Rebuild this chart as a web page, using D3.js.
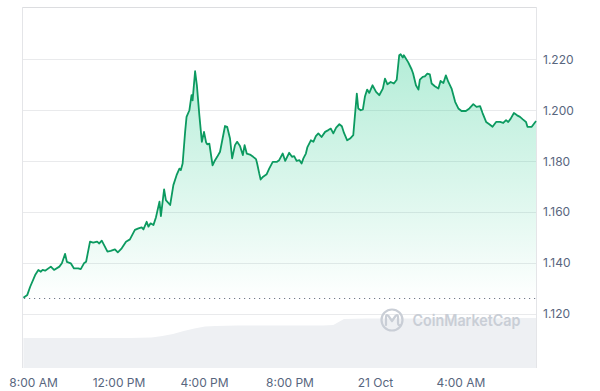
<!DOCTYPE html>
<html>
<head>
<meta charset="utf-8">
<script src="https://cdn.jsdelivr.net/npm/d3@7"></script>
<style>
  body { margin: 0; background: #fff; }
  svg { display: block; font-family: Inter, "Noto Sans", sans-serif; }
</style>
</head>
<body>
<div id="chart"></div>
<script>
// minutes after 20 Oct 08:00
const minutes = [-27, -16, -8, 6, 15, 22, 27, 34, 50, 59, 74, 81, 90, 95, 106, 115, 127, 134, 143, 149,
  160, 169, 180, 186, 193, 209, 218, 230, 238, 249, 261, 272, 286, 296, 305, 310, 319, 324, 330, 338,
  345, 349, 355, 359, 368, 373, 385, 394, 403, 411, 415, 420, 427, 431, 439, 445, 448, 455, 460, 467,
  474, 480, 486, 489, 495, 504, 511, 517, 525, 539, 545, 553, 559, 567, 573, 581, 589, 594, 600, 609,
  618, 626, 629, 635, 639, 646, 656, 663, 673, 684, 691, 701, 708, 719, 727, 733, 740, 748, 754, 759,
  766, 770, 780, 787, 794, 801, 810, 820, 829, 836, 843, 851, 860, 867, 873, 882, 890, 899, 909, 913,
  920, 926, 932, 938, 944, 953, 963, 972, 982, 988, 995, 1004, 1013, 1021, 1028, 1032, 1038, 1041, 1053, 1063,
  1067, 1075, 1082, 1086, 1094, 1100, 1107, 1114, 1119, 1128, 1138, 1144, 1152, 1159, 1166, 1175, 1185, 1194, 1203, 1215,
  1225, 1236, 1245, 1255, 1262, 1272, 1281, 1290, 1300, 1311, 1320, 1328, 1334, 1341, 1350, 1359, 1367, 1375, 1384, 1388,
  1400, 1410, 1412];
const prices = [1.1264, 1.1275, 1.1307, 1.1353, 1.1373, 1.1366, 1.1373, 1.1370, 1.1386, 1.1373, 1.1386, 1.1399, 1.1436, 1.1405, 1.1399, 1.1379, 1.1379, 1.1376, 1.1399, 1.1405,
  1.1484, 1.1480, 1.1484, 1.1477, 1.1488, 1.1445, 1.1448, 1.1454, 1.1442, 1.1458, 1.1484, 1.1493, 1.1530, 1.1536, 1.1540, 1.1532, 1.1562, 1.1543, 1.1556, 1.1549,
  1.1579, 1.1604, 1.1641, 1.1584, 1.1689, 1.1647, 1.1628, 1.1706, 1.1745, 1.1771, 1.1765, 1.1791, 1.1915, 1.1974, 1.2000, 1.2059, 1.2039, 1.2153, 1.2098, 1.1980,
  1.1876, 1.1915, 1.1873, 1.1866, 1.1869, 1.1784, 1.1804, 1.1817, 1.1837, 1.1938, 1.1935, 1.1889, 1.1811, 1.1863, 1.1876, 1.1860, 1.1824, 1.1863, 1.1830, 1.1826,
  1.1817, 1.1808, 1.1792, 1.1752, 1.1728, 1.1739, 1.1749, 1.1771, 1.1797, 1.1797, 1.1804, 1.1830, 1.1801, 1.1833, 1.1817, 1.1820, 1.1801, 1.1804, 1.1791, 1.1811,
  1.1830, 1.1854, 1.1882, 1.1876, 1.1898, 1.1909, 1.1895, 1.1915, 1.1922, 1.1928, 1.1909, 1.1932, 1.1945, 1.1937, 1.1911, 1.1882, 1.1889, 1.1902, 1.2065, 1.2007,
  1.2000, 1.2003, 1.2055, 1.2081, 1.2068, 1.2098, 1.2072, 1.2059, 1.2085, 1.2124, 1.2102, 1.2111, 1.2105, 1.2120, 1.2216, 1.2220, 1.2207, 1.2216, 1.2189, 1.2160,
  1.2144, 1.2098, 1.2081, 1.2120, 1.2131, 1.2133, 1.2144, 1.2141, 1.2105, 1.2094, 1.2085, 1.2115, 1.2107, 1.2137, 1.2111, 1.2085, 1.2033, 1.2007, 1.1997, 1.1997,
  1.2007, 1.2024, 1.2013, 1.2016, 1.1989, 1.1954, 1.1945, 1.1935, 1.1954, 1.1954, 1.1950, 1.1961, 1.1954, 1.1967, 1.1989, 1.1980, 1.1974, 1.1964, 1.1954, 1.1935,
  1.1935, 1.1954, 1.1958];

// volume (arbitrary units)
const volMinutes = [-27, 33, 93, 153, 213, 273, 333, 363, 393, 423, 453, 483, 513, 573, 633, 693, 753, 813, 843, 873, 933, 993, 1053, 1113, 1173, 1233, 1293, 1353, 1412];
const volumes = [30, 30, 30, 30, 30, 30, 30.5, 32, 34, 37, 39.5, 41.5, 42, 42.5, 42.5, 42.5, 42.5, 42.5, 43, 49, 49.5, 49.5, 49.5, 49.5, 49.5, 49.5, 49.5, 50, 50];

const yTicks = [1.12, 1.14, 1.16, 1.18, 1.2, 1.22];
const xTickMinutes = [0, 240, 480, 720, 960, 1200];
const xTickLabels = ["8:00 AM", "12:00 PM", "4:00 PM", "8:00 PM", "21 Oct", "4:00 AM"];
const openPrice = 1.1264;

const width = 600, height = 391;
const plotLeft = 22, plotRight = 536, plotTop = 7, plotBottom = 368;

const base = new Date(2024, 9, 20, 8, 0);
const toDate = m => new Date(base.getTime() + m * 60000);

const data = minutes.map((m, i) => ({ t: toDate(m), v: prices[i] }));
const vol = volMinutes.map((m, i) => ({ t: toDate(m), v: volumes[i] }));

const x = d3.scaleTime()
  .domain([toDate(-27), toDate(1412)])
  .range([23.4, plotRight]);

const y = d3.scaleLinear()
  .domain([1.12, 1.22])
  .range([314, 59.3]);

const yVol = d3.scaleLinear()
  .domain([0, 50])
  .range([plotBottom, plotBottom - 50]);

const svg = d3.select("#chart").append("svg")
  .attr("width", width)
  .attr("height", height);

const defs = svg.append("defs");
const grad = defs.append("linearGradient")
  .attr("id", "fillGrad")
  .attr("gradientUnits", "userSpaceOnUse")
  .attr("x1", 0).attr("x2", 0)
  .attr("y1", 55).attr("y2", 300);
grad.append("stop").attr("offset", "0%").attr("stop-color", "#16c784").attr("stop-opacity", 0.32);
grad.append("stop").attr("offset", "65%").attr("stop-color", "#16c784").attr("stop-opacity", 0.12);
grad.append("stop").attr("offset", "100%").attr("stop-color", "#16c784").attr("stop-opacity", 0.0);

// volume area
svg.append("path")
  .datum(vol)
  .attr("fill", "#eef0f3")
  .attr("d", d3.area()
    .x(d => x(d.t))
    .y0(plotBottom)
    .y1(d => yVol(d.v)));

// grid
svg.append("g")
  .selectAll("line")
  .data(yTicks)
  .enter().append("line")
  .attr("x1", plotLeft).attr("x2", plotRight)
  .attr("y1", d => Math.round(y(d)) + 0.5)
  .attr("y2", d => Math.round(y(d)) + 0.5)
  .attr("stroke", "#e9eaec")
  .attr("stroke-width", 1);

// frame
svg.append("line")
  .attr("x1", plotLeft).attr("x2", plotRight).attr("y1", plotTop + 0.5).attr("y2", plotTop + 0.5)
  .attr("stroke", "#dcdde0");
svg.append("line")
  .attr("x1", plotLeft + 0.5).attr("x2", plotLeft + 0.5).attr("y1", plotTop).attr("y2", plotBottom)
  .attr("stroke", "#e4e5e8");
svg.append("line")
  .attr("x1", plotRight + 0.5).attr("x2", plotRight + 0.5).attr("y1", plotTop).attr("y2", plotBottom)
  .attr("stroke", "#e4e5e8");

// price fill
svg.append("path")
  .datum(data)
  .attr("fill", "url(#fillGrad)")
  .attr("d", d3.area()
    .x(d => x(d.t))
    .y0(300)
    .y1(d => y(d.v)));

// opening price dotted line
svg.append("line")
  .attr("x1", plotLeft + 2).attr("x2", plotRight)
  .attr("y1", Math.round(y(openPrice)) + 0.5)
  .attr("y2", Math.round(y(openPrice)) + 0.5)
  .attr("stroke", "#707a8a")
  .attr("stroke-width", 1)
  .attr("stroke-dasharray", "1.2,3.8");

// price line
svg.append("path")
  .datum(data)
  .attr("fill", "none")
  .attr("stroke", "#0c9a60")
  .attr("stroke-width", 1.8)
  .attr("stroke-linejoin", "round")
  .attr("d", d3.line()
    .x(d => x(d.t))
    .y(d => y(d.v)));

// watermark
const wm = svg.append("g").attr("transform", "translate(392,320)");
wm.append("circle")
  .attr("r", 10.5)
  .attr("fill", "none")
  .attr("stroke", "#c9ced6")
  .attr("stroke-width", 2.2);
wm.append("path")
  .attr("d", "M-6,5 L-6,-3 Q-6,-6 -3.5,-4 L0,1 L3.5,-4 Q6,-6 6,-3 L6,3 Q6,6 9,5")
  .attr("fill", "none")
  .attr("stroke", "#c9ced6")
  .attr("stroke-width", 2.2)
  .attr("stroke-linecap", "round")
  .attr("stroke-linejoin", "round");
wm.append("text")
  .attr("x", 20.5)
  .attr("y", 6)
  .attr("font-size", 15.5)
  .attr("font-weight", 600)
  .attr("textLength", 108)
  .attr("lengthAdjust", "spacingAndGlyphs")
  .attr("fill", "#c9ced6")
  .text("CoinMarketCap");

// y axis
const yAxis = svg.append("g")
  .attr("transform", `translate(${plotRight},0)`)
  .call(d3.axisRight(y).tickValues(yTicks).tickFormat(d3.format(".3f")).tickSize(0).tickPadding(7));
yAxis.select(".domain").remove();
yAxis.selectAll("text")
  .attr("font-size", 12)
  .attr("font-family", "Inter, sans-serif")
  .attr("fill", "#58667e");

// x axis
const xAxis = svg.append("g")
  .attr("transform", `translate(0,${plotBottom})`)
  .call(d3.axisBottom(x)
    .tickValues(xTickMinutes.map(toDate))
    .tickFormat((d, i) => xTickLabels[i])
    .tickSize(0)
    .tickPadding(10));
xAxis.select(".domain").remove();
xAxis.selectAll("text")
  .attr("font-size", 12)
  .attr("font-family", "Inter, sans-serif")
  .attr("fill", "#58667e");
</script>
</body>
</html>
